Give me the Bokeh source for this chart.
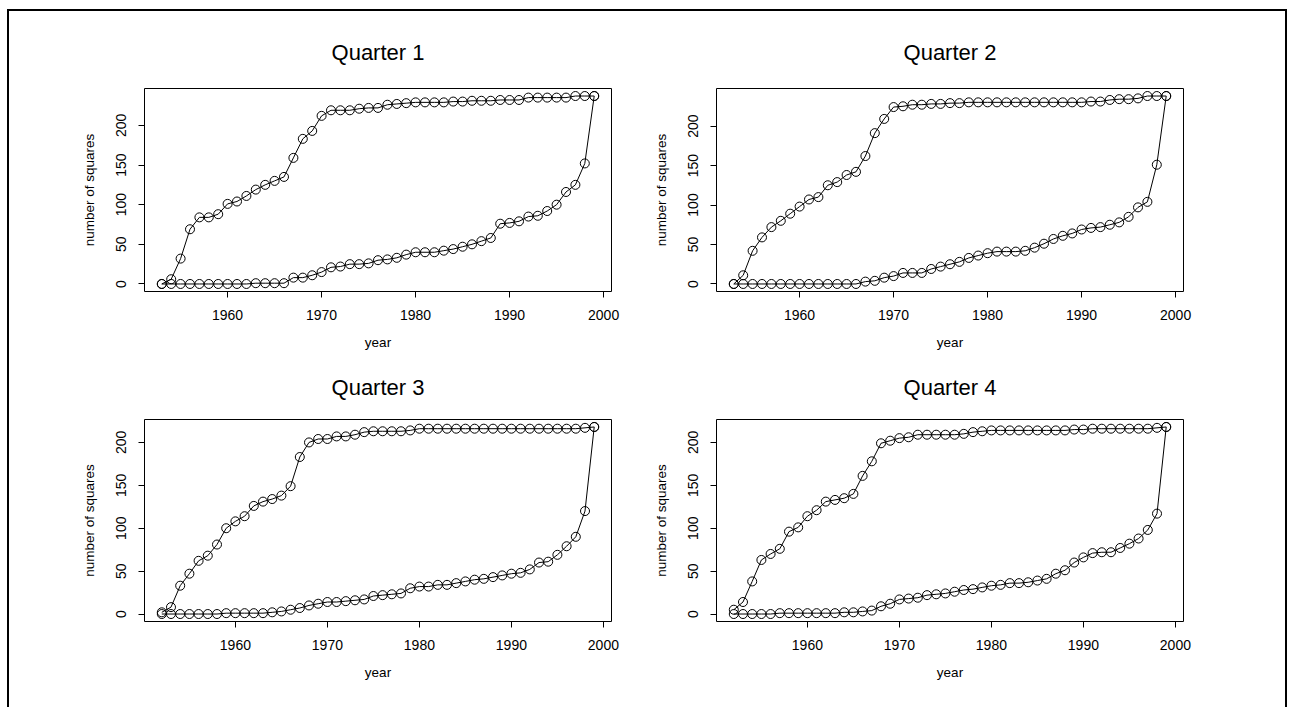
from bokeh.plotting import figure
from bokeh.layouts import column, row
from bokeh.models import Range1d, FixedTicker
from bokeh.embed import file_html
from bokeh.resources import INLINE

# ---------------- data ----------------
years_q12 = list(range(1953, 2000))
years_q34 = list(range(1952, 2000))

q1_first = [0, 6, 32, 69, 84, 84, 88, 101, 104, 111,
            119, 125, 130, 135, 159, 183, 193, 212, 219, 219,
            219, 221, 222, 222,
            226, 227, 228, 229, 229, 229, 229, 230, 230, 231,
            231, 231, 232, 232, 232, 235, 235, 235, 235, 235,
            237, 237, 237]
q1_last = [0, 0, 0, 0, 0, 0, 0, 0, 0, 0, 1, 1, 1, 1,
           8, 8, 11, 15, 21, 22, 25, 25, 26, 30,
           31, 33, 37, 40, 40, 40, 42, 44, 47, 50,
           54, 58, 76, 77, 79, 85, 86, 92, 100, 116,
           125, 152, 237]

q2_first = [0, 11, 42, 59, 72, 80, 89, 98, 107, 110,
            125, 129, 138, 142, 162, 191, 209, 224, 225, 227,
            227, 228, 228, 229, 229, 230,
            230, 230, 230, 230, 230, 230, 230, 230, 230, 230, 230, 230, 231,
            231, 233, 234, 234, 235, 238, 238, 238]
q2_last = [0, 0, 0, 0, 0, 0, 0, 0, 0, 0, 0, 0, 0, 0,
           3, 4, 8, 10, 14, 14, 14, 19, 22, 25, 28, 33,
           36, 39, 41, 41, 41, 42, 46, 51, 57, 61,
           64, 69, 71, 72, 75, 78, 85, 97, 104, 151, 238]

q3_first = [2, 8, 33, 47, 62, 68, 81, 100, 108, 114,
            126, 131, 134, 138, 149, 183, 200, 204, 204, 207,
            207, 209, 212, 213, 213, 213, 213, 214,
            216, 216, 216, 216, 216, 216, 216, 216, 216, 216,
            216, 216, 216, 216, 216, 216, 216, 216,
            217, 218]
q3_last = [0, 0, 0, 0, 0, 0, 0, 1, 1, 1, 1, 1,
           2, 3, 5, 7, 10, 12, 14, 14, 15, 16,
           17, 21, 22, 23, 24, 30, 32, 32, 34, 34,
           36, 38, 40, 41, 43, 45, 47, 48, 52, 60,
           61, 69, 79, 90, 120, 218]

q4_first = [5, 14, 38, 63, 70, 76, 96, 101, 114, 121,
            131, 133, 135, 140, 161, 178, 199, 202, 205, 206,
            209, 209, 209, 209, 209, 210, 212,
            213, 214, 214, 214, 214, 214, 214, 214, 214, 214,
            215, 215, 216, 216, 216, 216, 216, 216, 216,
            217, 218]
q4_last = [0, 0, 0, 0, 0, 1, 1, 1, 1, 1, 1, 1,
           2, 2, 3, 4, 9, 12, 17, 18, 19, 22,
           23, 24, 26, 28, 29, 31, 33, 34, 36, 36,
           37, 39, 41, 47, 51, 60, 66, 71, 72, 72,
           77, 82, 88, 98, 117, 218]

titles = ["Quarter 1", "Quarter 2", "Quarter 3", "Quarter 4"]
x_ticks = [1960, 1970, 1980, 1990, 2000]
y_ticks = [0, 50, 100, 150, 200]
x_label = "year"
y_label = "number of squares"

FONT = "Liberation Sans"


def panel(title, years, first, last, width, height, bl, br, bt, bb, standoff):
    xlo, xhi = min(years), max(years)
    xp = 0.04 * (xhi - xlo)
    vals = first + last
    ylo, yhi = min(vals), max(vals)
    yp = 0.04 * (yhi - ylo)
    p = figure(width=width, height=height, output_backend="svg",
               toolbar_location=None,
               x_range=Range1d(xlo - xp, xhi + xp),
               y_range=Range1d(ylo - yp, yhi + yp),
               min_border_left=bl, min_border_right=br,
               min_border_top=bt, min_border_bottom=bb,
               background_fill_color="white", border_fill_color="white")
    p.title.text = title
    p.title.align = "center"
    p.title.text_font = FONT
    p.title.text_font_size = "22px"
    p.title.text_font_style = "normal"
    p.title.text_color = "black"
    p.title.standoff = standoff
    p.outline_line_color = "black"
    p.outline_line_width = 1
    p.grid.visible = False
    for ax in (p.xaxis[0], p.yaxis[0]):
        ax.axis_line_color = None
        ax.major_tick_out = 6
        ax.major_tick_in = 0
        ax.major_tick_line_color = "black"
        ax.minor_tick_line_color = None
        ax.major_label_text_font = FONT
        ax.major_label_text_font_size = "14px"
        ax.major_label_text_color = "black"
        ax.axis_label_text_font = FONT
        ax.axis_label_text_font_size = "13.5px"
        ax.axis_label_text_font_style = "normal"
        ax.axis_label_text_color = "black"
    p.xaxis.ticker = FixedTicker(ticks=x_ticks)
    p.yaxis.ticker = FixedTicker(ticks=y_ticks)
    p.xaxis.axis_label = x_label
    p.yaxis.axis_label = y_label
    p.yaxis.major_label_orientation = "vertical"
    p.xaxis.major_label_standoff = 12
    p.yaxis.major_label_standoff = 12
    p.xaxis.axis_label_standoff = 12
    p.yaxis.axis_label_standoff = 17
    for series in (first, last):
        p.line(years, series, line_color="black", line_width=1)
        p.scatter(years, series, marker="circle", size=9,
                  fill_color=None, line_color="black", line_width=1)
    return p


p1 = panel(titles[0], years_q12, q1_first, q1_last, 637, 341, 135, 35, 77, 61, 48)
p2 = panel(titles[1], years_q12, q2_first, q2_last, 639, 341, 70, 102, 77, 61, 48)
p3 = panel(titles[2], years_q34, q3_first, q3_last, 637, 355, 135, 35, 67, 86, 39)
p4 = panel(titles[3], years_q34, q4_first, q4_last, 639, 355, 70, 102, 67, 86, 39)

layout = column(row(p1, p2), row(p3, p4),
                styles={"border-top": "2px solid black",
                        "border-left": "2px solid black",
                        "border-right": "2px solid black",
                        "margin-left": "7px", "margin-top": "9px"})

open("out.html", "w").write(file_html(layout, INLINE))
